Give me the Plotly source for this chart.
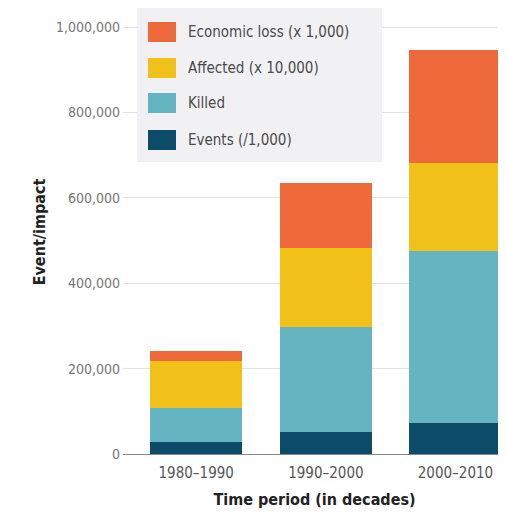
import plotly.graph_objects as go

periods = ["1980–1990", "1990–2000", "2000–2010"]
events = [28000, 52000, 73000]
killed = [80000, 245000, 402000]
affected = [110000, 185000, 206000]
economic = [23000, 153000, 265000]

series_names = ["Events (/1,000)", "Killed", "Affected (x 10,000)", "Economic loss (x 1,000)"]
series_values = [events, killed, affected, economic]
series_colors = ["#0D4C68", "#64B5C1", "#F1C11A", "#EF6A3B"]

y_ticks = [0, 200000, 400000, 600000, 800000, 1000000]
y_tick_text = ["0", "200,000", "400,000", "600,000", "800,000", "1,000,000"]

FONT = "DejaVu Sans Condensed, Liberation Sans Narrow, sans-serif"

OFF = 8  # page body margin
W, H = 506 - OFF, 518 - OFF
ML, MR, MT, MB = 123 - OFF, 0, 10 - OFF, 518 - 454
PW, PH = W - ML - MR, H - MT - MB

def px(x):
    return (x - OFF - ML) / PW

def py(y):
    return (H - MB - (y - OFF)) / PH

fig = go.Figure()
for name, vals, col in zip(series_names, series_values, series_colors):
    fig.add_trace(go.Bar(x=periods, y=vals, name=name, marker_color=col,
                         marker_line_width=0, showlegend=False))

shapes = []
annotations = []
shapes.append(dict(type="rect", xref="paper", yref="paper",
                   x0=px(137), x1=px(382), y0=py(162), y1=py(6),
                   fillcolor="#F1F1F4", line=dict(width=0), layer="above"))
row_y = [140, 103, 68, 32]
for name, col, yc in zip(series_names, series_colors, row_y):
    shapes.append(dict(type="rect", xref="paper", yref="paper",
                       x0=px(148), x1=px(176), y0=py(yc + 10), y1=py(yc - 10),
                       fillcolor=col, line=dict(width=0), layer="above"))
    annotations.append(dict(x=px(186), y=py(yc), xref="paper", yref="paper",
                            text=name, showarrow=False, xanchor="left", yanchor="middle",
                            font=dict(family=FONT, size=15, color="#4a4a4a")))

fig.update_layout(
    width=W, height=H,
    margin=dict(l=ML, r=MR, t=MT, b=MB, autoexpand=False),
    paper_bgcolor="white", plot_bgcolor="white",
    barmode="stack", bargap=0.29,
    showlegend=False,
    font=dict(family=FONT, size=13, color="#666"),
    shapes=shapes, annotations=annotations,
    xaxis=dict(range=[-0.565, 2.39], showgrid=False, showline=False, ticks="",
               automargin=False, ticklabelstandoff=8,
               tickfont=dict(size=15, color="#555"),
               title=dict(text="<b>Time period (in decades)</b>",
                          font=dict(size=16, color="#222"), standoff=12)),
    yaxis=dict(range=[0, 1040000], tickvals=y_ticks, ticktext=y_tick_text,
               automargin=False,
               showgrid=True, gridcolor="#E2E2E2", gridwidth=1,
               zeroline=True, zerolinecolor="#888", zerolinewidth=1,
               tickfont=dict(size=14, color="#777"), ticks="", ticklabelstandoff=2,
               title=dict(text="<b>Event/impact</b>",
                          font=dict(size=16, color="#222"), standoff=6)),
)

fig.write_html("out.html")
